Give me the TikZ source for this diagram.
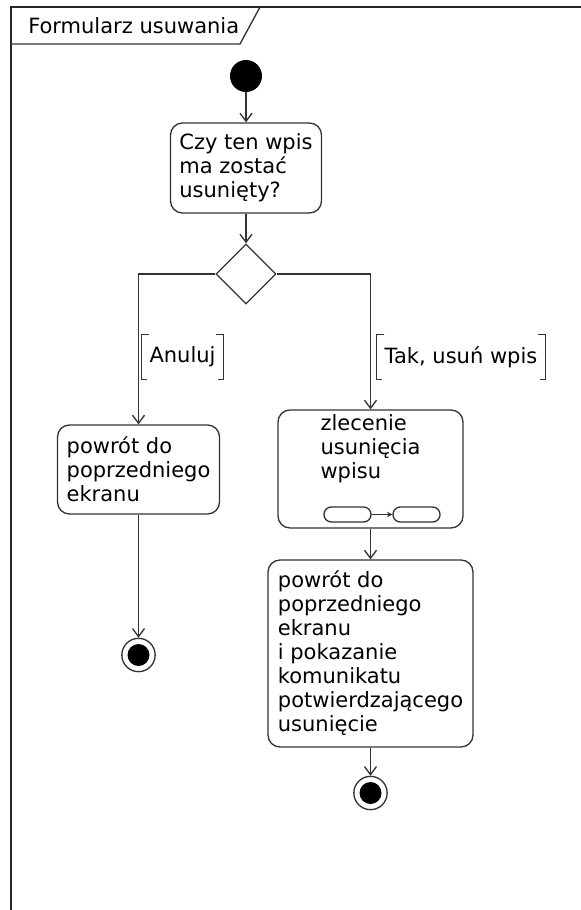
\documentclass[tikz,border=0pt]{standalone}
\usepackage{fontspec}
\setmainfont{DejaVu Sans}
\usetikzlibrary{arrows.meta,shapes.geometric}

\begin{document}
\begin{tikzpicture}[x=0.75pt,y=0.75pt,yscale=-1,xscale=1,
  font=\fontsize{15.75}{18}\selectfont,
  linia/.style={draw=black!80,line width=1pt},
  akcja/.style={linia,rounded corners=9pt,align=left,inner sep=0pt},
  strzalka/.style={linia,-{Straight Barb[length=6pt,width=9pt]}},
  poczatek/.style={circle,fill=black,inner sep=0pt,minimum size=24pt},
  koniec/.style={circle,linia,inner sep=0pt,minimum size=25pt,
    path picture={\fill (path picture bounding box.center) circle (8.25pt);}},
  decyzja/.style={diamond,linia,inner sep=0pt,minimum width=45pt,minimum height=45pt},
  straznik/.style={inner xsep=6pt,inner ysep=0pt,minimum height=33pt},
  pigulka/.style={linia,rounded corners=5.5pt,minimum width=35.25pt,minimum height=11.25pt,inner sep=0pt}
]
\useasboundingbox (0,0) rectangle (581,910);

%Frame
\draw [line width=1.5pt,draw=black!85] (581,7) -- (11,7) -- (11,910) ;
\draw [linia] (11,44) -- (240,44) -- (260,7) ;
% Text Node
\node [anchor=west,inner sep=0pt] (tytul) at (28,26) {Formularz usuwania};

%Start
\node [poczatek] (start) at (246,76) {};
%Question
\node [akcja,minimum width=113.25pt,minimum height=67.5pt] (pytanie) at (246,168) {Czy ten wpis\\ma zostać\\usunięty?};
%Decision
\node [decyzja] (wybor) at (246,274) {};

%Left branch
\node [akcja,minimum width=121.5pt,minimum height=66.75pt] (powrot1) at (138.5,469.5) {powrót do\\poprzedniego\\ekranu};
\node [koniec] (koniec1) at (138.5,655) {};

%Right branch
\node [akcja,minimum width=138.75pt,minimum height=88.5pt] (zlecenie) at (370.5,469) {};
\node [align=left,inner sep=0pt] (zlecenieTxt) at (370.5,449) {zlecenie\\usunięcia\\wpisu};
\node [pigulka] (pig1) at (347.5,514.5) {};
\node [pigulka] (pig2) at (416.5,514.5) {};
\node [akcja,minimum width=153.75pt,minimum height=140.25pt] (powrot2) at (370.5,653.5) {powrót do\\poprzedniego\\ekranu\\i pokazanie\\komunikatu\\potwierdzającego\\usunięcie};
\node [koniec] (koniec2) at (370.5,793) {};

% Guards
\node [straznik] (anuluj) at (182.5,357) {Anuluj};
\node [straznik] (tak) at (461,357) {Tak, usuń wpis};
\foreach \g in {anuluj,tak} {
  \draw [linia,line width=0.8pt] ([xshift=6]\g.north west) -- (\g.north west) -- (\g.south west) -- ++(6,0) ;
  \draw [linia,line width=0.8pt] ([xshift=-6]\g.north east) -- (\g.north east) -- (\g.south east) -- ++(-6,0) ;
}

%Connectors
\draw [strzalka] (start) -- (pytanie) ;
\draw [strzalka] (pytanie) -- (wybor) ;
\draw [strzalka] (wybor.west) -| (powrot1) ;
\draw [strzalka] (wybor.east) -| (zlecenie) ;
\draw [strzalka] (powrot1) -- (koniec1) ;
\draw [strzalka] (zlecenie) -- (powrot2) ;
\draw [strzalka] (powrot2) -- (koniec2) ;
\draw [linia,-{Stealth[length=4pt,width=4pt]}] (pig1) -- (pig2) ;

\end{tikzpicture}
\end{document}
